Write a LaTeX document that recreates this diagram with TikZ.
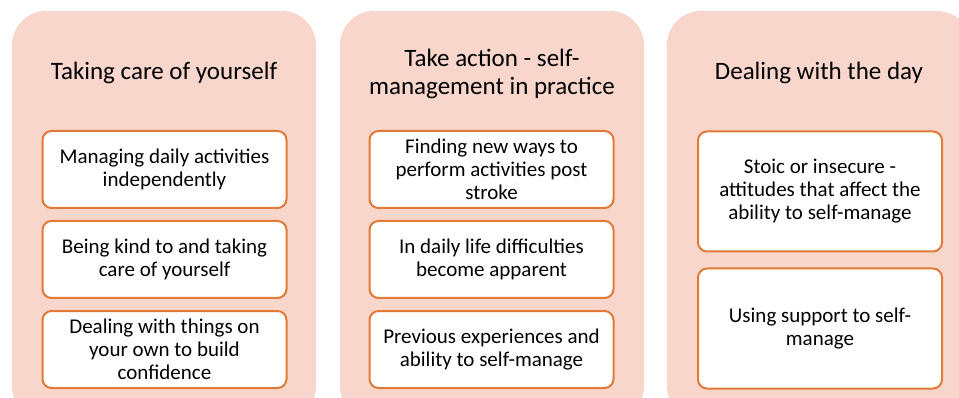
\documentclass[tikz,border=0pt]{standalone}
\usepackage{fontspec}
\setmainfont{Carlito}
\definecolor{panelfill}{HTML}{F8D6CC}
\definecolor{boxline}{HTML}{E07A36}
\begin{document}
\begin{tikzpicture}[x=1pt,y=-1pt,
  panel/.style={fill=panelfill, draw=none, rounded corners=34pt},
  ttl/.style={font=\fontsize{25}{28}\selectfont, align=center, text=black, inner sep=0pt},
  itembox/.style={draw=boxline, line width=2pt, fill=white, rounded corners=9pt,
    minimum width=244pt, minimum height=77pt, align=center, inner sep=0pt,
    font=\fontsize{21}{23}\selectfont, text=black}]
\useasboundingbox (0,0) rectangle (959,398);
\clip (0,0) rectangle (959,398);
% panels
\path[panel] (12,11) rectangle (316,420);
\path[panel] (340,11) rectangle (644,420);
\path[panel] (667,11) rectangle (971,420);
% titles
\node[ttl] (t1) at (164,73) {Taking care of yourself};
\node[ttl] (t2) at (492,73.5) {Take action - self-\\management in practice};
\node[ttl] (t3) at (819,73) {Dealing with the day};
% panel 1 boxes
\node[itembox] (a1) at (164.5,169.5) {Managing daily activities\\independently};
\node[itembox] (a2) at (164.5,259.5) {Being kind to and taking\\care of yourself};
\node[itembox] (a3) at (164.5,349.5) {Dealing with things on\\your own to build\\confidence};
% panel 2 boxes
\node[itembox] (b1) at (491.5,169.5) {Finding new ways to\\perform activities post\\stroke};
\node[itembox] (b2) at (491.5,259.5) {In daily life difficulties\\become apparent};
\node[itembox] (b3) at (491.5,349.5) {Previous experiences and\\ability to self-manage};
% panel 3 boxes
\node[itembox, minimum height=120pt] (c1) at (820,191.5) {Stoic or insecure -\\attitudes that affect the\\ability to self-manage};
\node[itembox, minimum height=120pt] (c2) at (820,328.5) {Using support to self-\\manage};
\end{tikzpicture}
\end{document}
